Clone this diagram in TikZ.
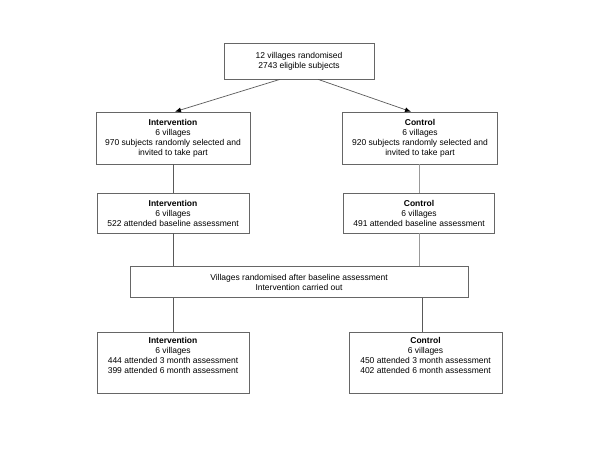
\documentclass[tikz,border=0pt]{standalone}
\usepackage{fontspec}
\setmainfont{Liberation Sans}
\usetikzlibrary{arrows.meta,calc}
\begin{document}
\begin{tikzpicture}[x=1pt,y=-1pt,
  box/.style={draw=black!60, line width=0.7pt, align=center, inner sep=0pt,
    font=\fontsize{8.5}{10}\selectfont},
  link/.style={draw=black!65, line width=0.7pt},
  linklight/.style={draw=black!40, line width=0.8pt},
  arr/.style={link, -{Latex[length=6pt,width=5pt,color=black]}}]
\useasboundingbox (0,0) rectangle (600,450);
\node[box, minimum width=150pt, minimum height=36pt] (top) at (299,61)
  {12 villages randomised\\2743 eligible subjects};
\node[box, minimum width=154pt, minimum height=52pt] (i1) at (173,138)
  {\textbf{Intervention}\\6 villages\\970 subjects randomly selected and\\invited to take part};
\node[box, minimum width=155pt, minimum height=52pt] (c1) at (420,138)
  {\textbf{Control}\\6 villages\\920 subjects randomly selected and\\invited to take part};
\node[box, minimum width=152pt, minimum height=40pt] (i2) at (173,213)
  {\textbf{Intervention}\\6 villages\\522 attended baseline assessment};
\node[box, minimum width=151pt, minimum height=40pt] (c2) at (419,213)
  {\textbf{Control}\\6 villages\\491 attended baseline assessment};
\node[box, minimum width=338pt, minimum height=31pt] (mid) at (299,282)
  {Villages randomised after baseline assessment\\Intervention carried out};
\node[box, minimum width=152pt, minimum height=61pt] (i3) at (173,362.5)
  {\textbf{Intervention}\\6 villages\\444 attended 3 month assessment\\399 attended 6 month assessment\\[4pt]};
\node[box, minimum width=153pt, minimum height=61pt] (c3) at (425.5,362.5)
  {\textbf{Control}\\6 villages\\450 attended 3 month assessment\\402 attended 6 month assessment\\[4pt]};
\coordinate (tl) at ($(top.south)+(-19,0)$);
\coordinate (tr) at ($(top.south)+(19,0)$);
\coordinate (i1t) at ($(i1.north)+(2,0)$);
\coordinate (c1t) at ($(c1.north)+(-9,0)$);
\coordinate (c3t) at ($(c3.north)+(-3,0)$);
\coordinate (c3m) at (c3t |- mid.south);
\draw[arr] (tl) -- (i1t);
\draw[arr] (tr) -- (c1t);
\draw[link] (i1.south) -- (i2.north);
\draw[linklight] (c1.south -| c2.north) -- (c2.north);
\draw[link] (i2.south) -- (i2.south |- mid.north);
\draw[linklight] (c2.south) -- (c2.south |- mid.north);
\draw[link] (i3.north |- mid.south) -- (i3.north);
\draw[link] (c3m) -- (c3t);
\end{tikzpicture}
\end{document}
